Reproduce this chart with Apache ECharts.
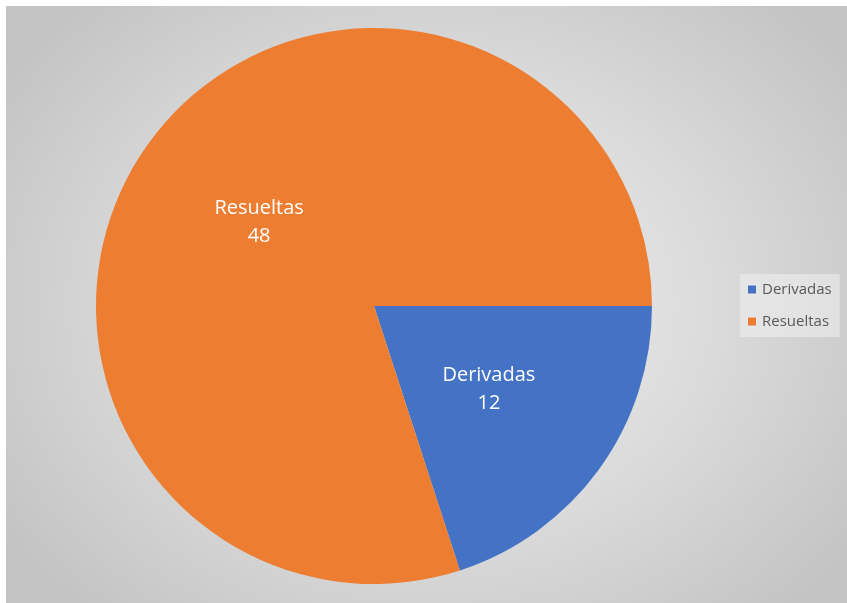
<!DOCTYPE html>
<html>
<head>
<meta charset="utf-8">
<script src="https://cdn.jsdelivr.net/npm/echarts@6/dist/echarts.min.js"></script>
<style>
html,body{margin:0;padding:0;background:#fff;}
#bg{position:absolute;left:6px;top:6px;width:841px;height:597px;
background:radial-gradient(ellipse 520px 420px at 430px 300px,#f2f2f2 0%,#dadada 55%,#c3c3c3 100%);}
#chart{position:absolute;left:0;top:0;width:847px;height:603px;}
</style>
</head>
<body>
<div id="bg"></div>
<div id="chart"></div>
<script>
var categories = ['Derivadas', 'Resueltas'];
var values = [12, 48];
var colors = ['#4472C4', '#ED7D31'];

var chart = echarts.init(document.getElementById('chart'), null, {renderer: 'canvas'});
chart.setOption({
  backgroundColor: 'transparent',
  animation: false,
  legend: {
    orient: 'vertical',
    left: 740,
    top: 274,
    data: categories,
    icon: 'rect',
    itemWidth: 8,
    itemHeight: 8,
    itemGap: 17,
    padding: [8, 8, 8, 8],
    backgroundColor: 'rgba(240,240,240,0.55)',
    textStyle: {fontFamily: 'Open Sans', fontSize: 15, color: '#595959', padding: [0, 0, 0, 1]}
  },
  series: [{
    type: 'pie',
    center: [374, 306],
    radius: [0, 278],
    startAngle: 0,
    clockwise: true,
    label: {
      position: 'inside',
      formatter: '{b}\n{c}',
      color: '#ffffff',
      fontFamily: 'Open Sans',
      fontSize: 20,
      lineHeight: 28
    },
    labelLine: {show: false},
    itemStyle: {borderWidth: 0},
    emphasis: {disabled: true},
    data: categories.map(function (c, i) {
      return {name: c, value: values[i], itemStyle: {color: colors[i]}};
    })
  }]
});
</script>
</body>
</html>
